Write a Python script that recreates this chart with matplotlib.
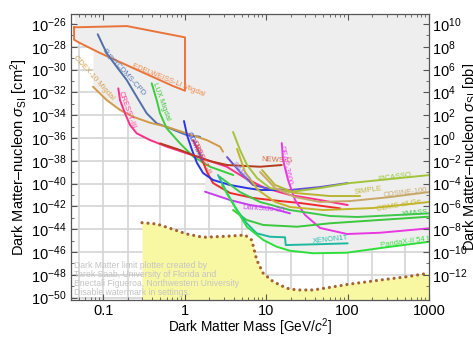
import numpy as np
import matplotlib
matplotlib.use("Agg")
import matplotlib.pyplot as plt
from matplotlib.ticker import FixedLocator, FuncFormatter, LogLocator, NullFormatter

plt.rcParams['font.family'] = ['Liberation Sans', 'DejaVu Sans']
plt.rcParams['mathtext.fontset'] = 'custom'
plt.rcParams['mathtext.rm'] = 'Liberation Sans'
plt.rcParams['mathtext.it'] = 'Liberation Sans:italic'
plt.rcParams['mathtext.bf'] = 'Liberation Sans:bold'

# ---- limits: mass [GeV/c^2] and log10(sigma_SI / cm^2) ----
edw_up_m = [0.044, 0.196, 1.01]
edw_up_s = [-26.29, -26.18, -27.17]
edw_lo_m = [0.044, 0.052, 0.0915, 0.2325, 0.72, 1.01]
edw_lo_s = [-27.38, -27.67, -28.54, -29.86, -31.44, -31.85]

cpd_m = [0.0858, 0.1106, 0.1466, 0.1946, 0.258, 0.342, 0.454, 0.661, 1.06, 1.543]
cpd_s = [-26.90, -28.57, -29.75, -30.91, -32.38, -33.83, -34.71, -35.15, -35.74, -35.89]

cdex_m = [0.0751, 0.1106, 0.161, 0.2325, 0.376, 0.602, 1.06, 1.865, 2.716, 2.956]
cdex_s = [-31.50, -32.67, -33.54, -34.13, -34.66, -35.01, -35.59, -36.18, -36.76, -37.20]

luxm_m = [0.394, 0.454, 0.4985, 0.602, 0.877, 1.277, 2.048, 3.956]
luxm_s = [-31.20, -32.67, -33.83, -35.15, -36.47, -37.64, -38.52, -39.25]

cresst3_m = [0.1535, 0.161, 0.1854, 0.2136, 0.258, 0.376, 0.602, 1.06, 1.865,
             3.282, 5.505, 9.68, 19.63, 45.8, 100]
cresst3_s = [-31.64, -32.67, -33.83, -34.86, -35.59, -36.18, -36.76, -37.34, -37.93,
             -38.52, -39.51, -40.39, -41.00, -41.44, -41.88]

cresst2_m = [1.266, 1.459, 1.68, 1.881, 2.228, 3.603, 6.899, 14.8, 26.0, 80.6]
cresst2_s = [-36.18, -37.05, -38.11, -38.98, -39.95, -40.82, -41.26, -41.53, -41.70, -42.17]

cdmslite_m = [0.982, 1.069, 1.231, 1.418, 1.68, 2.228, 3.603, 5.823, 8.41, 14.8]
cdmslite_s = [-34.51, -35.74, -37.05, -38.19, -39.07, -39.68, -40.12, -40.39, -40.56, -40.56]

damic_m = [3.311, 4.778, 6.899, 11.15, 19.63, 45.8, 100]
damic_s = [-37.67, -38.98, -40.12, -40.47, -40.56, -40.30, -39.95]

newsg_m = [0.4985, 0.877, 1.266, 2.048, 3.311, 8.41, 15.52]
newsg_s = [-36.47, -37.05, -37.49, -38.02, -38.37, -38.52, -38.37]

deap_m = [15.52, 16.1, 18.55, 22.6, 30.0, 45.8, 98.2, 250, 1000]
deap_s = [-36.44, -37.93, -39.68, -41.44, -42.75, -43.89, -44.42, -44.31, -43.92]

ds50_m = [1.778, 2.358, 3.603, 6.339, 11.15, 19.63]
ds50_s = [-40.71, -41.00, -41.44, -41.88, -42.14, -42.61]

picasso_m = [3.922, 4.778, 5.823, 7.725, 11.15, 19.63, 45.8, 107, 331, 1000]
picasso_s = [-35.47, -37.05, -38.37, -39.51, -40.39, -40.74, -40.39, -39.95, -39.60, -39.25]

simple_m = [8.9, 12.85, 22.6, 60.8, 142]
simple_s = [-38.81, -40.12, -40.82, -41.09, -41.09]

cosine_m = [8.41, 12.85, 22.6, 45.8, 107, 331, 1000]
cosine_s = [-38.98, -40.39, -41.18, -41.61, -41.53, -41.18, -40.74]

cdmsge_m = [4.39, 5.505, 7.947, 12.85, 19.63, 49.9, 205, 1000]
cdmsge_s = [-36.96, -38.98, -40.56, -41.61, -42.05, -42.32, -42.14, -41.61]

xmass_m = [2.716, 4.778, 8.41, 19.63, 60.8, 130, 1000]
xmass_s = [-39.42, -40.74, -41.61, -42.32, -42.84, -42.93, -42.61]

lux_m = [3.922, 5.774, 9.23, 23.9, 60.8, 1000]
lux_s = [-42.32, -43.19, -43.63, -43.78, -43.48, -42.90]

xe1t_m = [2.567, 3.405, 4.39, 5.774, 7.659, 11.15, 17.04, 17.38, 41.7, 100]
xe1t_s = [-39.25, -41.00, -42.32, -43.48, -44.36, -44.66, -44.71, -45.39, -45.32, -45.24]

pandax_m = [2.873, 4.353, 5.774, 9.23, 13.48, 19.63, 37.9, 97.4, 331, 1000]
pandax_s = [-40.12, -42.32, -43.78, -44.95, -45.54, -45.89, -46.11, -46.06, -45.54, -45.10]

floor_m = [0.3, 0.454, 0.661, 1.06, 1.69, 3.6, 5.5, 6.65, 7.66, 9.2, 12.2, 17.9,
           23.7, 37.9, 60.8, 107, 250, 531, 1000]
floor_s = [-43.43, -43.54, -43.92, -44.42, -44.71, -44.60, -44.51, -44.95, -46.70,
           -47.87, -48.60, -49.18, -49.33, -49.33, -49.10, -48.81, -48.46, -48.17, -47.85]

x_ticks = [0.1, 1, 10, 100, 1000]
x_ticklabels = ['0.1', '1', '10', '100', '1000']

# ---- figure ----
W, H = 473, 337
fig = plt.figure(figsize=(W / 100, H / 100), dpi=100)
x0, x1, ytop, ybot = 70.7, 429.2, 14, 300
ax = fig.add_axes([x0 / W, 1 - ybot / H, (x1 - x0) / W, (ybot - ytop) / H])

ylo, yhi = -50.21, -25.12
xlo, xhi = 0.04, 1000
ax.set_xscale('log')
ax.set_yscale('log')
ax.set_xlim(xlo, xhi)
ax.set_ylim(10 ** ylo, 10 ** yhi)

# grid
for v in [0.05, 0.1, 0.2, 0.5, 1, 2, 5, 10, 20, 50, 100, 200, 500]:
    ax.axvline(v, color='#d4d4d4', lw=1.2, zorder=0)
for e in range(-50, -25, 2):
    ax.axhline(10.0 ** e, color='#d4d4d4', lw=1.2, zorder=0)

curves = [
    (cpd_m, cpd_s, '#4f6fa8'),
    (cdex_m, cdex_s, '#d09a48'),
    (luxm_m, luxm_s, '#3ccc3c'),
    (cresst3_m, cresst3_s, '#ff2d8a'),
    (cresst2_m, cresst2_s, '#ee2b2b'),
    (cdmslite_m, cdmslite_s, '#2a35e8'),
    (damic_m, damic_s, '#6a50d0'),
    (newsg_m, newsg_s, '#b5391c'),
    (deap_m, deap_s, '#e838e0'),
    (ds50_m, ds50_s, '#c83cf0'),
    (picasso_m, picasso_s, '#a2c43a'),
    (simple_m, simple_s, '#b9b532'),
    (cosine_m, cosine_s, '#c8a86a'),
    (cdmsge_m, cdmsge_s, '#c2b52a'),
    (xmass_m, xmass_s, '#3ec84a'),
    (lux_m, lux_s, '#3cc83c'),
    (xe1t_m, xe1t_s, '#1fb7a0'),
    (pandax_m, pandax_s, '#2ede3a'),
]

# excluded region: everything above the lowest limit at each mass
grid = np.logspace(np.log10(xlo), np.log10(xhi), 4000)
lg = np.log10(grid)
stack = [np.interp(lg, np.log10(edw_lo_m), edw_lo_s, left=np.nan, right=np.nan)]
for m, s, _ in curves:
    stack.append(np.interp(lg, np.log10(m), s, left=np.nan, right=np.nan))
stack = np.vstack(stack)
valid = ~np.all(np.isnan(stack), axis=0)
env = np.min(np.where(np.isnan(stack), 99.0, stack), axis=0)
env = np.where(valid, env, yhi)
ax.fill_between(grid, 10 ** env, 10 ** (yhi + 1), where=valid,
                color='#eeeeee', lw=0, zorder=1)

# neutrino floor
fm = np.array(floor_m)
fs = 10 ** np.array(floor_s)
ax.fill_between(fm, fs, 10 ** (ylo - 2), color='#f8f8a2', lw=0, zorder=1.5)
ax.plot(fm, fs, color='#a5642e', lw=2.3, ls=(0, (0.01, 1.85)), dash_capstyle='round',
        zorder=6)

# limit curves
edw_poly_m = edw_up_m + edw_lo_m[::-1] + [edw_up_m[0]]
edw_poly_s = edw_up_s + edw_lo_s[::-1] + [edw_up_s[0]]
ax.plot(edw_poly_m, 10 ** np.array(edw_poly_s), color='#e8743b', lw=1.4, zorder=4)
for m, s, c in curves:
    ax.plot(m, 10 ** np.array(s), color=c, lw=1.4, zorder=4, solid_capstyle='round')

# curve labels (text, mass, log sigma, rotation, colour, alignment)
labels = [
    ('EDELWEISS-LI Migdal', 0.634, -30.91, -22, '#f08a4a', 'center'),
    ('SuperCDMS-CPD', 0.18, -30.21, -48, '#5a7ab5', 'center'),
    ('CDEX-10 Migdal', 0.077, -30.74, -48, '#d8a050', 'center'),
    ('LUX Migdal', 0.513, -32.84, -70, '#3cc83c', 'center'),
    ('CRESST-III', 0.1963, -33.54, -70, '#ff3d95', 'center'),
    ('CDMSlite', 1.34, -36.79, -65, '#3a45f0', 'center'),
    ('CRESST-II', 1.588, -37.67, -65, '#ff4040', 'center'),
    ('DAMIC', 4.78, -38.98, -50, '#9a8ae8', 'center'),
    ('NEWS-G', 13.6, -37.93, -3, '#d0683a', 'center'),
    ('DEAP-3600', 17.04, -38.37, -78, '#f048e8', 'center'),
    ('DarkSide-50', 9.4, -42.23, -4, '#c848f0', 'center'),
    ('PICASSO', 381, -39.42, 8, '#9cc83a', 'center'),
    ('SIMPLE', 178, -40.65, 8, '#bdb83a', 'center'),
    ('COSINE-100', 272, -41.0, 7, '#c8aa70', 'left'),
    ('CDMS-all Ge', 229, -42.23, 10, '#c2b832', 'left'),
    ('XMASS', 465, -42.67, 5, '#3ec84a', 'left'),
    ('XENON1T', 62.5, -44.95, 6, '#22c0a8', 'center'),
    ('PandaX-II 54 ton-day', 250, -45.39, 8, '#3ade44', 'left'),
]
for t, m, s, r, c, ha in labels:
    ax.text(m, 10 ** s, t, rotation=r, rotation_mode='anchor', ha=ha, va='center',
            color=c, fontsize=5.5, zorder=7, clip_on=True)

# watermark
wm = ['Dark Matter limit plotter created by',
      'Tarek Saab, University of Florida and',
      'Enectali Figueroa, Northwestern University',
      'Disable watermark in settings.']
for i, line in enumerate(wm):
    fig.text(74 / W, 1 - (266 + 8.7 * i) / H, line, fontsize=6.2, color='#c4c4c4',
             ha='left', va='center', zorder=8)

# axes styling
for sp in ax.spines.values():
    sp.set_color('#555555')
    sp.set_linewidth(0.9)
    sp.set_zorder(10)

ax.xaxis.set_major_locator(FixedLocator(x_ticks))
ax.set_xticklabels(x_ticklabels)
ax.xaxis.set_minor_locator(LogLocator(base=10, subs=np.arange(2, 10)))
ax.xaxis.set_minor_formatter(NullFormatter())

ax.yaxis.set_major_locator(FixedLocator([10.0 ** e for e in range(-50, -25, 2)]))
ax.yaxis.set_minor_locator(FixedLocator([10.0 ** e for e in range(-49, -25, 2)]))
ax.yaxis.set_major_formatter(FuncFormatter(lambda v, p: r'$10^{%d}$' % round(np.log10(v))))
ax.yaxis.set_minor_formatter(NullFormatter())
ax.tick_params(which='both', direction='in', top=True, right=False, color='#555555',
               labelsize=10.5, pad=3)
ax.tick_params(which='major', length=4, width=0.8)
ax.tick_params(which='minor', length=2, width=0.6)

ax.set_xlabel(r'Dark Matter Mass [GeV/$c^2$]', fontsize=9.8, labelpad=-1)
ax.set_ylabel(r'Dark Matter–nucleon $\sigma_{\rm SI}$ [cm$^2$]', fontsize=10.5, labelpad=1)

ax2 = ax.twinx()
ax2.set_yscale('log')
ax2.set_ylim(10 ** (ylo + 36), 10 ** (yhi + 36))
ax2.yaxis.set_major_locator(FixedLocator([10.0 ** e for e in range(-12, 11, 2)]))
ax2.yaxis.set_minor_locator(FixedLocator([10.0 ** e for e in range(-13, 11, 2)]))
ax2.yaxis.set_major_formatter(FuncFormatter(lambda v, p: r'$10^{%d}$' % round(np.log10(v))))
ax2.yaxis.set_minor_formatter(NullFormatter())
ax2.tick_params(which='both', direction='in', color='#555555', labelsize=10.5, pad=2)
ax2.tick_params(which='major', length=4, width=0.8)
ax2.tick_params(which='minor', length=2, width=0.6)
for sp in ax2.spines.values():
    sp.set_visible(False)

fig.text(470 / W, 1 - 157 / H, r'Dark Matter–nucleon $\sigma_{\rm SI}$ [pb]', rotation=90,
         ha='center', va='center', fontsize=10.5)

fig.savefig('out.png', dpi=100)
